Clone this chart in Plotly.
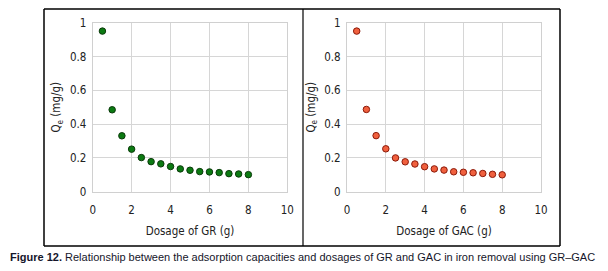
import plotly.graph_objects as go

dosage = [0.5, 1, 1.5, 2, 2.5, 3, 3.5, 4, 4.5, 5, 5.5, 6, 6.5, 7, 7.5, 8]
qe_gr = [0.951, 0.485, 0.331, 0.252, 0.202, 0.178, 0.165, 0.149, 0.135, 0.127, 0.119, 0.117, 0.113, 0.107, 0.105, 0.101]
qe_gac = [0.951, 0.487, 0.332, 0.254, 0.200, 0.177, 0.164, 0.148, 0.135, 0.128, 0.118, 0.115, 0.112, 0.108, 0.103, 0.100]
x_ticks = [0, 2, 4, 6, 8, 10]
y_ticks = [0, 0.2, 0.4, 0.6, 0.8, 1]
y_tick_text = ["0", "0.2", "0.4", "0.6", "0.8", "1"]

# page has an 8px body margin; figure is sized to fit the 608x271 window
OFF = 8
W, H = 608 - OFF, 271 - OFF
FONT = "DejaVu Sans Condensed, Liberation Sans, sans-serif"
CAP_FONT = "Liberation Sans, Arial, sans-serif"

def px(x):
    return (x - OFF) / W

def py(y):
    return 1 - (y - OFF) / H

fig = go.Figure()
fig.add_trace(go.Scatter(x=dosage, y=qe_gr, mode="markers", xaxis="x", yaxis="y",
                         marker=dict(size=6.5, color="#0b7a12", line=dict(color="#0b3a0b", width=1)),
                         showlegend=False))
fig.add_trace(go.Scatter(x=dosage, y=qe_gac, mode="markers", xaxis="x2", yaxis="y2",
                         marker=dict(size=6.5, color="#f0603e", line=dict(color="#8b1a0a", width=1)),
                         showlegend=False))

ydom = [py(191.7), py(22.8)]
axis_common = dict(showgrid=True, gridcolor="#d6d6d6", gridwidth=1, zeroline=False,
                   showline=True, linecolor="#d0d0d0", linewidth=1, mirror=True,
                   automargin=False,
                   ticks="", tickfont=dict(family=FONT, size=11.5, color="#222222"))
title_font = dict(family=FONT, size=11.5, color="#222222")

TOP = 9
box = dict(color="black", width=1.5)

fig.update_layout(
    width=W, height=H, margin=dict(l=0, r=0, t=0, b=0, autoexpand=False),
    paper_bgcolor="white", plot_bgcolor="white",
    xaxis=dict(domain=[px(92.7), px(287.3)], range=[0, 10], tickvals=x_ticks, anchor="y",
               ticklabelstandoff=7,
               title=dict(text="Dosage of GR (g)", font=title_font, standoff=11),
               **axis_common),
    yaxis=dict(domain=ydom, range=[0, 1], tickvals=y_ticks, ticktext=y_tick_text, anchor="x",
               ticklabelstandoff=3,
               title=dict(text="Q<sub>e</sub> (mg/g)", font=title_font, standoff=6),
               **axis_common),
    xaxis2=dict(domain=[px(347), px(541)], range=[0, 10], tickvals=x_ticks, anchor="y2",
                ticklabelstandoff=7,
                title=dict(text="Dosage of GAC (g)", font=title_font, standoff=11),
                **axis_common),
    yaxis2=dict(domain=ydom, range=[0, 1], tickvals=y_ticks, ticktext=y_tick_text, anchor="x2",
                ticklabelstandoff=3,
                title=dict(text="Q<sub>e</sub> (mg/g)", font=title_font, standoff=6),
                **axis_common),
    shapes=[
        dict(type="line", xref="paper", yref="paper", x0=px(44), x1=px(44), y0=py(246), y1=py(TOP),
             line=box, layer="above"),
        dict(type="line", xref="paper", yref="paper", x0=px(560), x1=px(560), y0=py(246), y1=py(TOP),
             line=box, layer="above"),
        dict(type="line", xref="paper", yref="paper", x0=px(44), x1=px(560), y0=py(TOP), y1=py(TOP),
             line=box, layer="above"),
        dict(type="line", xref="paper", yref="paper", x0=px(44), x1=px(560), y0=py(246), y1=py(246),
             line=box, layer="above"),
        dict(type="line", xref="paper", yref="paper", x0=px(303), x1=px(303), y0=py(246), y1=py(TOP),
             line=dict(color="black", width=1.2), layer="above"),
    ],
    annotations=[
        dict(text="<b>Figure 12.</b> Relationship between the adsorption capacities and dosages of GR and GAC in iron removal using GR\u2013GAC",
             xref="paper", yref="paper", x=px(8), y=py(257), xanchor="left", yanchor="middle",
             showarrow=False, font=dict(family=CAP_FONT, size=11.0, color="#15152a")),
    ],
)

fig.write_html("out.html")
